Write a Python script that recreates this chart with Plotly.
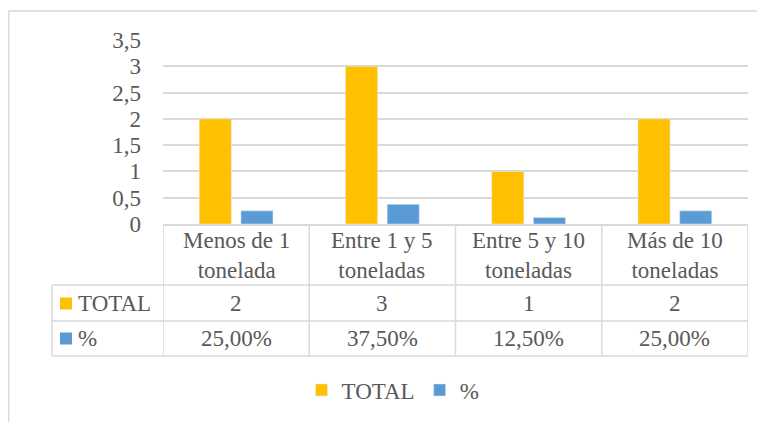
import plotly.graph_objects as go

categories = ["Menos de 1 tonelada", "Entre 1 y 5 toneladas", "Entre 5 y 10 toneladas", "Más de 10 toneladas"]
category_labels = ["Menos de 1<br>tonelada", "Entre 1 y 5<br>toneladas", "Entre 5 y 10<br>toneladas", "Más de 10<br>toneladas"]
total_values = [2, 3, 1, 2]
pct_values = [0.25, 0.375, 0.125, 0.25]
series_names = ["TOTAL", "%"]
y_ticks = [0, 0.5, 1, 1.5, 2, 2.5, 3, 3.5]

YELLOW = "#FFC000"
BLUE = "#5B9BD5"
GRID = "#D9D9D9"
TEXT = "#595959"
FONT = "Liberation Serif"
FS = 23

# page body margin offset (8px) compensation
OFF = 8
W, H = 765, 422
L = 163 - OFF
T = 40 - OFF
PB = 224 - OFF          # plot bottom in figure px
PR = 748 - OFF          # plot right in figure px
R = W - PR
B = H - PB
PW, PH = PR - L, PB - T


def px_x(p):
    return (p - OFF - L) / PW


def px_y(p):
    return (PB - (p - OFF)) / PH


font = dict(family=FONT, size=FS, color=TEXT)

fig = go.Figure()
fig.add_trace(go.Bar(x=categories, y=total_values, name=series_names[0], marker_color=YELLOW))
fig.add_trace(go.Bar(x=categories, y=pct_values, name=series_names[1], marker_color=BLUE))

shapes = []
line = dict(color=GRID, width=1.5)
# outer chart border
shapes.append(dict(type="rect", xref="paper", yref="paper", x0=px_x(8.8), x1=px_x(820), y0=px_y(470), y1=px_y(11),
                   line=dict(color=GRID, width=1.4), layer="below"))
# table vertical lines at category boundaries
for i in range(len(categories) + 1):
    shapes.append(dict(type="line", xref="x", yref="paper", x0=i - 0.5, x1=i - 0.5, y0=px_y(224), y1=px_y(356), line=line))
# left border of row labels
shapes.append(dict(type="line", xref="paper", yref="paper", x0=px_x(52), x1=px_x(52), y0=px_y(285), y1=px_y(356), line=line))
# horizontal lines
for yy in [285, 321, 356]:
    shapes.append(dict(type="line", xref="paper", yref="paper", x0=px_x(52), x1=1, y0=px_y(yy), y1=px_y(yy), line=line))
# colored keys in table
for yc, col in [(303.5, YELLOW), (338.5, BLUE)]:
    shapes.append(dict(type="rect", xref="paper", yref="paper", x0=px_x(60), x1=px_x(72), y0=px_y(yc + 6), y1=px_y(yc - 6),
                       fillcolor=col, line=dict(width=0)))

annotations = []
for cat, lab, tv, pv in zip(categories, category_labels, total_values, pct_values):
    annotations.append(dict(x=cat, xref="x", y=px_y(255.5), yref="paper", text=lab, showarrow=False, font=font,
                            xanchor="center", yanchor="middle"))
    annotations.append(dict(x=cat, xref="x", y=px_y(303.5), yref="paper", text=str(tv), showarrow=False, font=font,
                            xanchor="center", yanchor="middle"))
    annotations.append(dict(x=cat, xref="x", y=px_y(338.5), yref="paper",
                            text=("%.2f%%" % (pv * 100)).replace(".", ","), showarrow=False, font=font,
                            xanchor="center", yanchor="middle"))
for name, yc in zip(series_names, [303.5, 338.5]):
    annotations.append(dict(x=px_x(76), xref="paper", y=px_y(yc), yref="paper", text=name, showarrow=False, font=font,
                            xanchor="left", yanchor="middle"))

fig.update_layout(
    width=W, height=H,
    margin=dict(l=L, r=R, t=T, b=B, pad=0),
    paper_bgcolor="white", plot_bgcolor="white",
    separators=",.",
    barmode="group", bargap=0.43, bargroupgap=0.23,
    font=font,
    showlegend=True,
    legend=dict(orientation="h", x=px_x(393), xanchor="center", y=px_y(390), yanchor="middle",
                font=font, itemwidth=30, tracegroupgap=0, bgcolor="rgba(0,0,0,0)"),
    xaxis=dict(type="category", range=[-0.5, 3.5], showticklabels=False, showgrid=False, zeroline=False,
               showline=True, linecolor=GRID, linewidth=1.5, ticks=""),
    yaxis=dict(range=[0, 3.5], tickvals=y_ticks, showgrid=True, gridcolor=GRID, gridwidth=1.5, zeroline=False,
               showline=False, ticks="", ticklabelstandoff=21, tickfont=font),
    shapes=shapes, annotations=annotations,
)

fig.write_html("out.html")
